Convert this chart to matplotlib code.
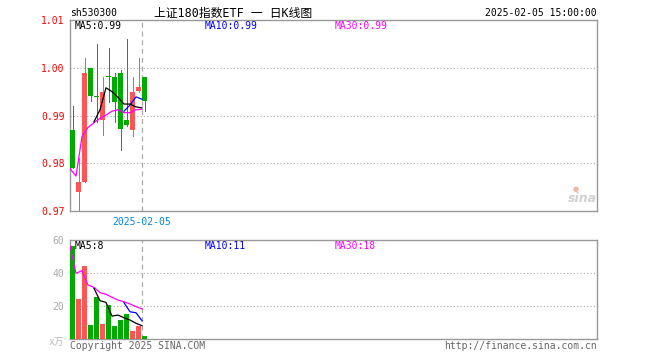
import matplotlib
matplotlib.use("Agg")
import matplotlib.pyplot as plt
import numpy as np

plt.rcParams['font.family'] = ['DejaVu Sans Mono', 'Noto Sans CJK SC']

# candles: open, close, high, low
opens  = [0.987, 0.974, 0.976, 1.000, 0.9940, 0.989, 0.9981, 0.998, 0.999, 0.9891, 0.987, 0.9951, 0.998]
closes = [0.979, 0.976, 0.999, 0.994, 0.9939, 0.995, 0.9980, 0.9928, 0.9871, 0.9880, 0.995, 0.9960, 0.993]
highs  = [0.992, 0.981, 1.002, 1.000, 1.005, 0.998, 1.0042, 0.999, 0.9995, 1.006, 0.998, 1.0021, 0.998]
lows   = [0.979, 0.970, 0.976, 0.993, 0.9887, 0.986, 0.9929, 0.9887, 0.9828, 0.9878, 0.9858, 0.9949, 0.991]

# price moving averages (None = not drawn)
ma5_price  = [None, None, None, None, 0.9887, 0.9912, 0.9958, 0.9950, 0.9938, 0.9924, 0.9924, 0.9918, 0.9916]
ma10_price = [None] * 9 + [0.9909, 0.9922, 0.9939, 0.9934]
ma30_price = [0.9789, 0.9773, 0.9856, 0.9875, 0.9885, 0.9894, 0.9901, 0.9909, 0.9912, 0.9906, 0.9906, 0.9912, 0.9913]

# volume (x万) and its moving averages
volumes  = [56.5, 24.2, 44.4, 8.5, 25.5, 9.1, 20.4, 7.9, 11.5, 15.2, 4.8, 8.1, 1.8]
ma5_vol  = [None, None, None, None, 30.7, 23.2, 22.2, 13.9, 14.5, 12.9, 11.5, 9.5, 8.1]
ma10_vol = [None] * 9 + [22.0, 16.5, 15.9, 11.1]
ma30_vol = [56.5, 39.8, 41.4, 32.7, 31.3, 28.1, 27.1, 25.3, 23.6, 22.6, 21.2, 19.6, 18.2]

price_ticks = [0.97, 0.98, 0.99, 1.00, 1.01]
vol_ticks = [20, 40, 60]

RED = '#ff5555'
GREEN = '#00aa00'
FRAME = '#999999'
W, H = 660, 360

fig = plt.figure(figsize=(6.6, 3.6), dpi=100)


def px_axes(x0, y0, x1, y1):
    return fig.add_axes([x0 / W, 1 - y1 / H, (x1 - x0) / W, (y1 - y0) / H])


def ftext(x, y, s, **kw):
    fig.text(x / W, 1 - y / H, s, va='center', **kw)


ax = px_axes(70, 20, 597, 211)
axv = px_axes(70, 240, 597, 339)

n = len(opens)
idx = np.arange(n)
xl = (-2.5 / 6, -2.5 / 6 + 527 / 6)
edge = idx - 2.5 / 6
colors = [RED if c > o else GREEN for o, c in zip(opens, closes)]

# price panel
for i in range(n):
    ax.vlines(i, lows[i], highs[i], color=colors[i], lw=0.72, antialiased=False, zorder=2)
    lo, hi = min(opens[i], closes[i]), max(opens[i], closes[i])
    ax.bar(i, max(hi - lo, 0.0002), bottom=lo, width=5 / 6, color=colors[i], lw=0, zorder=3)


def draw_ma(a, vals, col):
    pts = [(x, v) for x, v in zip(edge, vals) if v is not None]
    a.plot([p[0] for p in pts], [p[1] for p in pts], color=col, lw=0.9, zorder=4)


draw_ma(ax, ma30_price, '#ff00ff')
draw_ma(ax, ma10_price, '#0000ff')
draw_ma(ax, ma5_price, '#000000')

ax.set_xlim(*xl)
ax.set_ylim(0.97, 1.01)
ax.set_yticks(price_ticks)
ax.set_yticklabels(['%.2f' % t for t in price_ticks], color='#ff0000', fontsize=7)
ax.set_xticks([])
for y in [0.98, 0.99, 1.00]:
    ax.axhline(y, color='#aaaaaa', lw=0.8, ls=(0, (1, 2)), zorder=1)

# volume panel
axv.bar(idx, volumes, width=5 / 6, color=colors, lw=0, zorder=3)
draw_ma(axv, ma30_vol, '#ff00ff')
draw_ma(axv, ma10_vol, '#0000ff')
draw_ma(axv, ma5_vol, '#000000')
axv.set_xlim(*xl)
axv.set_ylim(0, 60)
axv.set_yticks(vol_ticks)
axv.set_yticklabels([str(t) for t in vol_ticks], color='#aaaaaa', fontsize=7)
axv.set_xticks([])
for y in [20, 40]:
    axv.axhline(y, color='#aaaaaa', lw=0.8, ls=(0, (1, 2)), zorder=1)

for a in (ax, axv):
    a.tick_params(axis='y', length=0, pad=4)
    for s in a.spines.values():
        s.set_color(FRAME)
        s.set_linewidth(1.0)
    a.axvline(12 - 2.5 / 6, color='#aaaaaa', lw=0.9, ls=(0, (4, 3)), zorder=1)

# texts
ftext(70, 13, 'sh530300', fontsize=7, color='#000000')
ftext(233, 13, '上证180指数ETF 一 日K线图', fontsize=8.5, ha='center', color='#000000')
ftext(597, 13, '2025-02-05 15:00:00', fontsize=7, ha='right', color='#000000')

ftext(75, 26, 'MA5:0.99', fontsize=7, color='#000000')
ftext(205, 26, 'MA10:0.99', fontsize=7, color='#0000ff')
ftext(335, 26, 'MA30:0.99', fontsize=7, color='#ff00ff')

ftext(142, 222, '2025-02-05', fontsize=7, ha='center', color='#0088dd')

ftext(75, 246, 'MA5:8', fontsize=7, color='#000000')
ftext(205, 246, 'MA10:11', fontsize=7, color='#0000ff')
ftext(335, 246, 'MA30:18', fontsize=7, color='#ff00ff')

ftext(64, 342, 'x万', fontsize=7, ha='right', color='#bbbbbb')
ftext(70, 346, 'Copyright 2025 SINA.COM', fontsize=7, color='#666666')
ftext(597, 346, 'http://finance.sina.com.cn', fontsize=7, ha='right', color='#666666')

# watermark
ftext(582, 199, 'sina', fontsize=9, ha='center', color='#d0d0d0', fontweight='bold',
      style='italic', family='DejaVu Sans')
ftext(576, 189, '●', fontsize=5, ha='center', color='#f4b0a0', family='DejaVu Sans')

fig.savefig('out.png', dpi=100)
